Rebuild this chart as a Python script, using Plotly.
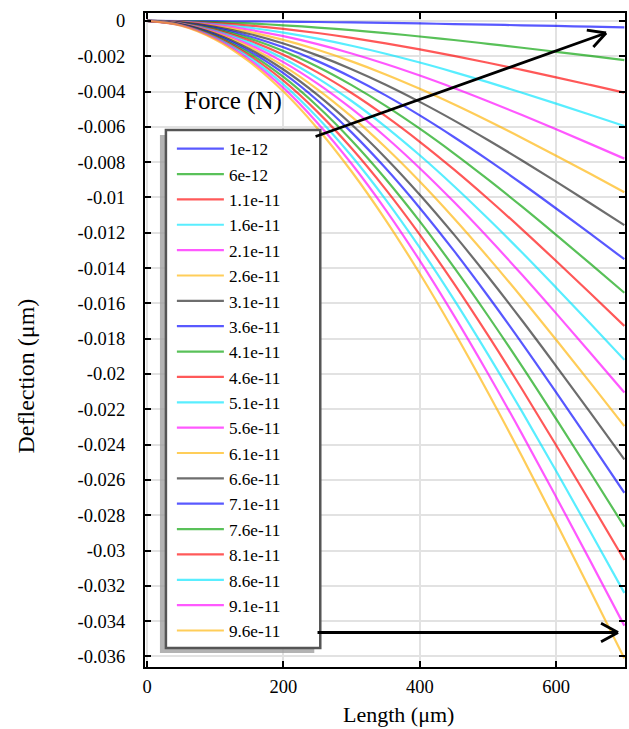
import plotly.graph_objects as go

# ---------------- data ----------------
force_labels = ["1e-12", "6e-12", "1.1e-11", "1.6e-11", "2.1e-11", "2.6e-11", "3.1e-11",
                "3.6e-11", "4.1e-11", "4.6e-11", "5.1e-11", "5.6e-11", "6.1e-11", "6.6e-11",
                "7.1e-11", "7.6e-11", "8.1e-11", "8.6e-11", "9.1e-11", "9.6e-11"]

# deflection at the free end (x = 700 um), one per force
tip_deflection = [-0.00036, -0.00222, -0.00406, -0.00595, -0.00780, -0.00970, -0.01157,
                  -0.01350, -0.01540, -0.01728, -0.01920, -0.02105, -0.02295, -0.02484,
                  -0.02673, -0.02865, -0.03054, -0.03240, -0.03426, -0.03611]

# positions along the beam and the read profile of the largest-force curve (9.6e-11 N)
length_um = [0, 50, 100, 150, 200, 250, 300, 350, 400, 450, 500, 550, 600, 650, 700]
profile_max = [0.0, -0.00027, -0.00105, -0.00231, -0.00400, -0.00609, -0.00853, -0.01128,
               -0.01431, -0.01758, -0.02105, -0.02467, -0.02842, -0.03224, -0.03611]

x_ticks = [0, 200, 400, 600]
x_ticktext = ["0", "200", "400", "600"]
y_ticks = [0, -0.002, -0.004, -0.006, -0.008, -0.01, -0.012, -0.014, -0.016, -0.018, -0.02,
           -0.022, -0.024, -0.026, -0.028, -0.03, -0.032, -0.034, -0.036]
y_ticktext = ["0", "-0.002", "-0.004", "-0.006", "-0.008", "-0.01", "-0.012", "-0.014",
              "-0.016", "-0.018", "-0.02", "-0.022", "-0.024", "-0.026", "-0.028", "-0.03",
              "-0.032", "-0.034", "-0.036"]

palette = ["#0000ff", "#00a000", "#ff0000", "#00e5ff", "#ff00ff", "#ffb300", "#202020"]

# ---------------- layout geometry ----------------
W, H = 629, 729
L, R, T, B = 145, 627, 13, 667
FONT = "'Liberation Serif', 'Times New Roman', Times, serif"


def px(xp):
    return (xp - L) / (R - L)


def py(yp):
    return (B - yp) / (B - T)


fig = go.Figure()
ref = profile_max[-1]
for i, name in enumerate(force_labels):
    ys = [v * tip_deflection[i] / ref for v in profile_max]
    fig.add_trace(go.Scatter(
        x=length_um, y=ys, mode="lines", name=name,
        line=dict(color=palette[i % len(palette)], width=2.2, shape="spline"),
        opacity=0.65,
    ))

shapes = [
    # legend shadow
    dict(type="rect", xref="paper", yref="paper", x0=px(160), x1=px(315), y0=py(653), y1=py(135),
         fillcolor="rgba(160,160,160,0.8)", line=dict(width=0), layer="above"),
    # legend box
    dict(type="rect", xref="paper", yref="paper", x0=px(166), x1=px(321), y0=py(648), y1=py(130),
         fillcolor="white", line=dict(color="#555555", width=2.5), layer="above"),
]

annotations = [
    dict(text="Force (N)", xref="paper", yref="paper", x=px(233), y=py(101), showarrow=False,
         font=dict(family=FONT, size=25, color="black"), xanchor="center", yanchor="middle"),
    dict(text="Length (μm)", xref="paper", yref="paper", x=px(400), y=py(714), showarrow=False,
         font=dict(family=FONT, size=22, color="black"), xanchor="center", yanchor="middle"),
    dict(text="Deflection (μm)", xref="paper", yref="paper", x=px(26), y=py(376), showarrow=False,
         textangle=-90, font=dict(family=FONT, size=24, color="black"),
         xanchor="center", yanchor="middle"),
]


def arrow(tip, tail, arms):
    out = [dict(text="", xref="paper", yref="paper", x=px(tip[0]), y=py(tip[1]),
                ax=tail[0] - tip[0], ay=tail[1] - tip[1], showarrow=True, arrowhead=0,
                arrowwidth=2.8, arrowcolor="black", standoff=0, startstandoff=0)]
    for a in arms:
        out.append(dict(text="", xref="paper", yref="paper", x=px(tip[0]), y=py(tip[1]),
                        ax=a[0], ay=a[1], showarrow=True, arrowhead=0,
                        arrowwidth=2.8, arrowcolor="black", standoff=0, startstandoff=0))
    return out


annotations += arrow((608, 33), (316, 137), [(-20.8, -3.0), (-14.1, 15.5)])
annotations += arrow((620, 632.5), (318, 632.5), [(-18.5, -10), (-18.5, 10)])

fig.update_layout(
    width=W, height=H,
    margin=dict(l=L, r=W - R, t=T, b=H - B, pad=0),
    paper_bgcolor="white", plot_bgcolor="white",
    font=dict(family=FONT, color="black"),
    showlegend=True,
    legend=dict(x=px(172), y=py(131), xanchor="left", yanchor="top",
                bgcolor="rgba(0,0,0,0)", borderwidth=0, itemwidth=47,
                font=dict(family=FONT, size=17.2, color="black"), tracegroupgap=0),
    shapes=shapes,
    annotations=annotations,
    xaxis=dict(range=[-3, 701], tickvals=x_ticks, ticktext=x_ticktext,
               ticks="inside", ticklen=6, tickwidth=2, tickcolor="black",
               showline=True, linewidth=2, linecolor="black", mirror="ticks",
               showgrid=True, gridcolor="#e2e2e2", gridwidth=2, zeroline=False,
               tickfont=dict(family=FONT, size=18.5, color="black"), ticklabelstandoff=2),
    yaxis=dict(range=[-0.0366, 0.00045], tickvals=y_ticks, ticktext=y_ticktext,
               ticks="inside", ticklen=6, tickwidth=2, tickcolor="black",
               showline=True, linewidth=2, linecolor="black", mirror="ticks",
               showgrid=True, gridcolor="#e2e2e2", gridwidth=2, zeroline=False,
               tickfont=dict(family=FONT, size=18.5, color="black"), ticklabelstandoff=14),
)

fig.write_html("out.html")
